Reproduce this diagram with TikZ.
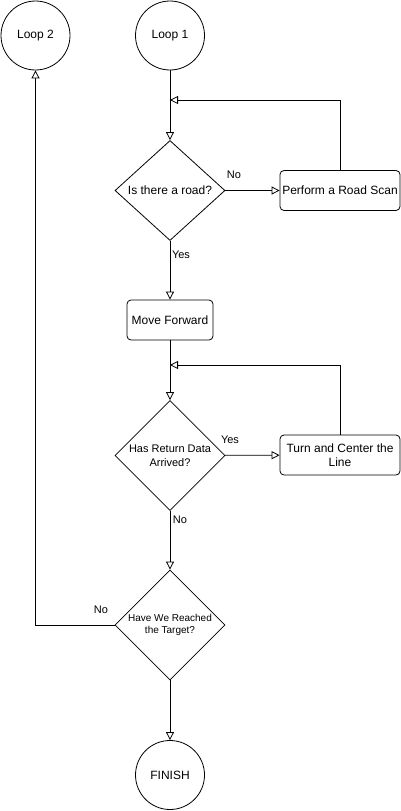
\documentclass[tikz,border=0pt]{standalone}
\usepackage{fontspec}
\setmainfont{Liberation Sans}
\usetikzlibrary{arrows.meta,shapes.geometric}

\begin{document}
\begin{tikzpicture}[x=1pt, y=-1pt, line width=0.8pt, font=\fontsize{12}{14}\selectfont,
  term/.style={draw, circle, minimum size=69pt, inner sep=0pt},
  proc/.style={draw, rounded corners=4pt, minimum width=120pt, minimum height=40pt, inner sep=1pt, align=center},
  cond/.style={draw, diamond, aspect=1, minimum width=110pt, minimum height=110pt, inner sep=0pt, align=center},
  flow/.style={-{Triangle[open, length=8pt, width=8pt, fill=white]}},
  lbl/.style={font=\fontsize{11}{13}\selectfont}]
\useasboundingbox (0,0) rectangle (401,811);
% Nodes
\node[term] (loopB) at (35.5,35.5) {Loop 2};
\node[term] (loopA) at (170,35.5) {Loop 1};
\node[cond, minimum height=100pt] (road) at (170,190.5) {Is there a road?};
\node[proc] (scan) at (340,190.5) {Perform a Road Scan};
\node[proc, minimum width=86pt] (fwd) at (170,320) {Move Forward};
\node[cond, font=\fontsize{11}{14}\selectfont] (data) at (170,455.5) {Has Return Data\\Arrived?};
\node[proc] (turn) at (340,455) {Turn and Center the\\Line};
\node[cond, font=\fontsize{10}{12}\selectfont] (goal) at (170,625) {Have We Reached\\the Target?};
\node[term] (finish) at (170,775) {FINISH};
\coordinate (joinA) at (170,100);
\coordinate (joinB) at (170,365);
% Lines
\draw[flow] (loopA) -- (road);
\draw[flow] (road) -- (scan);
\draw[flow] (scan.north) |- (joinA);
\draw[flow] (road) -- (fwd);
\draw[flow] (fwd) -- (data);
\draw[flow] (data) -- (turn);
\draw[flow] (turn.north) |- (joinB);
\draw[flow] (data) -- (goal);
\draw[flow] (goal.west) -| (loopB.south);
\draw[flow] (goal) -- (finish);
% Labels
\node[lbl] (noA) at (234,175) {No};
\node[lbl] (yesA) at (181,255) {Yes};
\node[lbl] (yesB) at (230,440) {Yes};
\node[lbl] (noB) at (180,520) {No};
\node[lbl] (noC) at (101,610) {No};
\end{tikzpicture}
\end{document}
